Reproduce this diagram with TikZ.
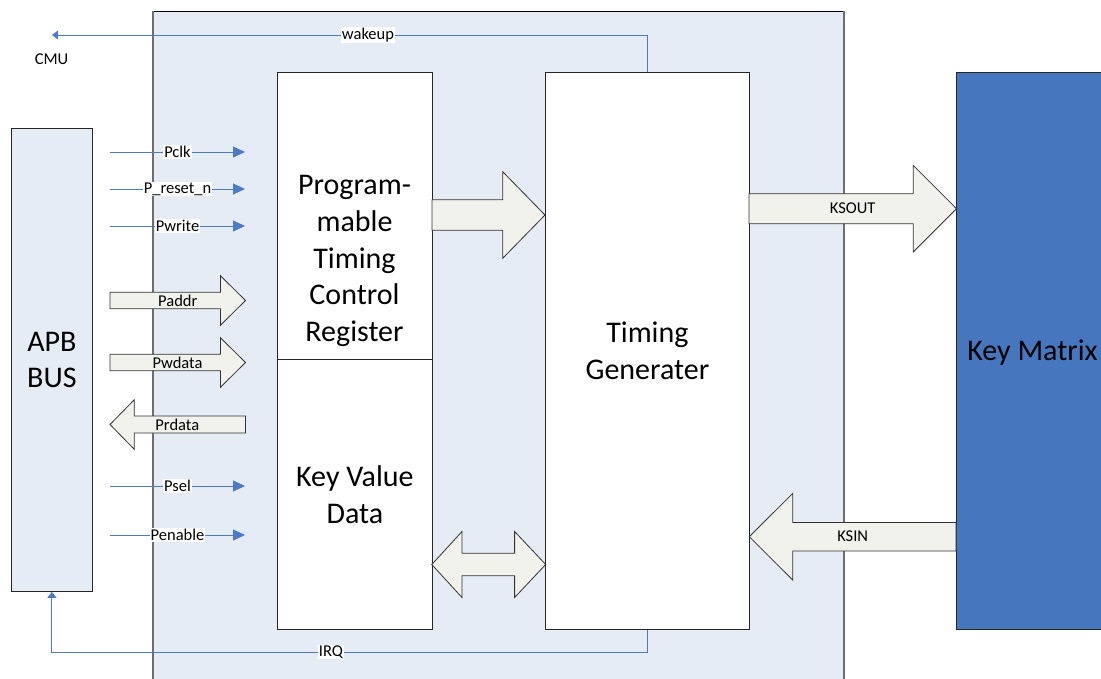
\documentclass[tikz,border=0pt]{standalone}
\usepackage{fontspec}
\setmainfont{Carlito}
\usetikzlibrary{arrows.meta}
\definecolor{bgblue}{HTML}{E6ECF6}
\definecolor{sigblue}{HTML}{4A7BC4}
\definecolor{kmblue}{HTML}{4677BE}
\definecolor{arrfill}{HTML}{F1F2EB}
\definecolor{edgegray}{HTML}{6E6E6E}
\newcommand\fatshape[6]{% #1 tail x, #2 head base x, #3 tip x, #4 centre y, #5 body half, #6 head half
  \draw[fat] (#1,#4-#5) -- (#2,#4-#5) -- (#2,#4-#6) -- (#3,#4) -- (#2,#4+#6) -- (#2,#4+#5) -- (#1,#4+#5) -- cycle;}
\begin{document}
\begin{tikzpicture}[x=1pt,y=-1pt,
  box/.style={draw=black!85, line width=0.8pt, fill=white, inner sep=0pt, anchor=north west, align=center},
  bigtext/.style={font=\fontsize{30}{36.6}\selectfont, align=center, inner sep=0pt},
  lbl/.style={font=\fontsize{16.5}{18}\selectfont, fill=white, inner sep=1pt},
  plainlbl/.style={font=\fontsize{16.5}{18}\selectfont, inner sep=0pt},
  sig/.style={draw=sigblue, line width=0.9pt, -{Triangle[length=12pt,width=11pt]}},
  thinsig/.style={draw=sigblue, line width=0.9pt, -{Triangle[length=6pt,width=9pt]}},
  fat/.style={draw=black!80, line width=0.8pt, fill=arrfill, line join=miter},
]
\useasboundingbox (0,0) rectangle (1101,679);
\clip (0,0) rectangle (1101,679);
% container
\fill[bgblue] (153,11) rectangle (844,700);
\draw[black, line width=0.8pt] (153,11) -- (844,11);
\draw[edgegray, line width=1.6pt] (153,11) -- (153,700);
\draw[edgegray, line width=1.2pt] (844,11) -- (844,700);
% boxes
\node[box, fill=bgblue, minimum width=81, minimum height=463, bigtext, anchor=north west] (apb) at (11,128) {APB\\BUS};
\node[box, minimum width=155, minimum height=287] (prog) at (277,72) {};
\node[bigtext] (progtext) at (354.5,261) {Program-\\mable\\Timing\\Control\\Register};
\node[box, bigtext, anchor=north west, minimum width=155, minimum height=270] (kvd) at (277,359) {Key Value\\Data};
\node[box, bigtext, anchor=north west, minimum width=204, minimum height=557] (tg) at (545,72) {Timing\\Generater};
\node[box, bigtext, anchor=north west, fill=kmblue, minimum width=154, minimum height=557] (km) at (956,72) {};
\node[bigtext] (kmtext) at (1032.5,353) {Key Matrix};
% thin signals
\foreach \yy/\tt/\nn in {152/Pclk/a,189/P\_reset\_n/b,226/Pwrite/c,486/Psel/d,535/Penable/e}{
  \coordinate (s\nn) at (110,\yy);
  \coordinate (t\nn) at (245,\yy);
  \draw[sig] (s\nn) -- node[lbl] {\tt} (t\nn);
}
% wakeup
\coordinate (cmuend) at (52,35);
\draw[thinsig] (tg.north) |- (cmuend);
\node[lbl] (wk) at (368,35) {wakeup};
\node[plainlbl] (cmu) at (51.5,59) {CMU};
% IRQ
\draw[thinsig] (tg.south) -- ++(0,23) -| (apb.south);
\node[lbl] (irq) at (331,652) {IRQ};
% fat arrows
\fatshape{110}{220.5}{245.5}{300.5}{8.3}{24.7}
\node[plainlbl] (paddr) at (177.8,300.5) {Paddr};
\fatshape{110}{220.5}{245.5}{362.5}{8.2}{24.7}
\node[plainlbl] (pwdata) at (177.5,362.5) {Pwdata};
\fatshape{245.5}{134.3}{110}{424.5}{8.5}{24.8}
\node[plainlbl] (prdata) at (177.3,424.5) {Prdata};
\fatshape{432}{502.7}{545}{215}{15.3}{43.3}
\fatshape{749}{913.3}{956.5}{208.7}{15}{43.3}
\node[plainlbl] (ksout) at (852.7,208.7) {KSOUT};
\fatshape{956}{792.7}{749.3}{536.7}{14.3}{43.3}
\node[plainlbl] (ksin) at (852.7,536.7) {KSIN};
\draw[fat] (431.8,564.5) -- (462,531.5) -- (462,553.3) -- (514.6,553.3) -- (514.6,531.5) -- (545.7,564.5)
  -- (514.6,597.5) -- (514.6,575.7) -- (462,575.7) -- (462,597.5) -- cycle;
\end{tikzpicture}
\end{document}
